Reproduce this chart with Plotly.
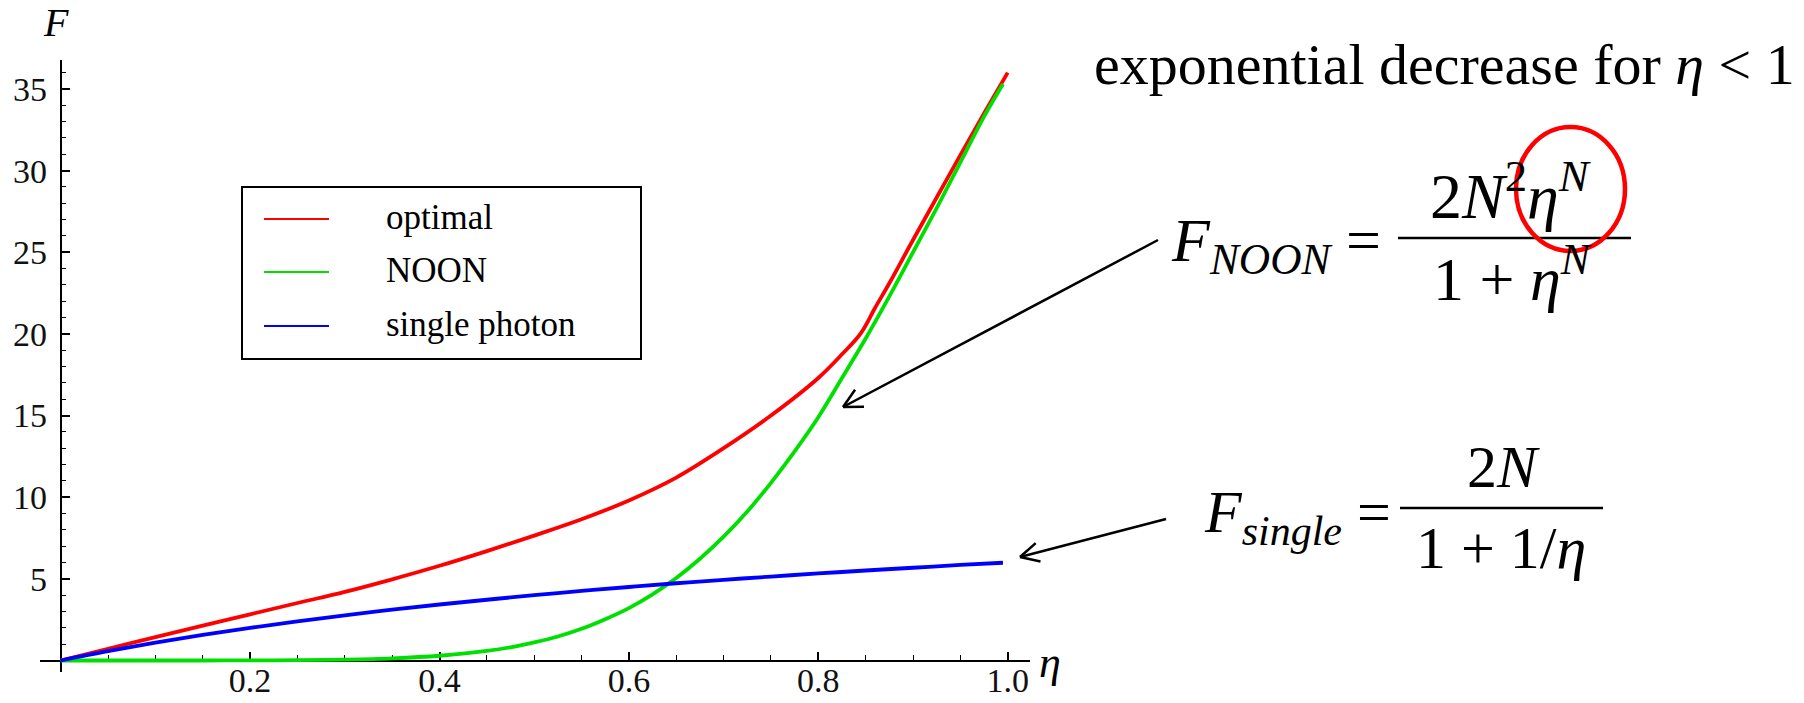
import math
import plotly.graph_objects as go

# ---------------- data ----------------
eta_optimal = [0.0, 0.05, 0.10, 0.15, 0.20, 0.25, 0.30, 0.35, 0.40, 0.45, 0.50,
               0.55, 0.60, 0.65, 0.70, 0.75, 0.80, 0.825, 0.845, 0.86, 0.875,
               0.90, 0.925, 0.95, 0.975, 1.0]
F_optimal = [0.0, 0.72, 1.43, 2.13, 2.83, 3.52, 4.2, 4.97, 5.8, 6.7, 7.65,
             8.65, 9.8, 11.2, 13.0, 15.0, 17.3, 18.75, 20.05, 21.6, 23.1,
             25.75, 28.35, 30.95, 33.5, 36.0]

eta_noon = [0.0, 0.05, 0.10, 0.15, 0.20, 0.25, 0.30, 0.35, 0.40, 0.45, 0.475,
            0.50, 0.525, 0.55, 0.575, 0.60, 0.625, 0.65, 0.675, 0.70, 0.725,
            0.75, 0.775, 0.80, 0.825, 0.85, 0.875, 0.90, 0.925, 0.95, 0.975,
            0.995]
F_noon = [0.0, 0.0, 0.0001, 0.001, 0.005, 0.018, 0.052, 0.13, 0.29, 0.59, 0.81,
          1.11, 1.47, 1.94, 2.53, 3.21, 4.05, 5.05, 6.23, 7.58, 9.12,
          10.88, 12.81, 14.9, 17.3, 19.72, 22.3, 25.0, 27.7, 30.5, 33.3,
          35.3]

eta_single = [0.0, 0.05, 0.10, 0.15, 0.20, 0.25, 0.30, 0.35, 0.40, 0.45, 0.50,
              0.55, 0.60, 0.65, 0.70, 0.75, 0.80, 0.85, 0.90, 0.95, 0.995]
F_single = [0.0, 0.571, 1.09, 1.565, 2.0, 2.4, 2.77, 3.11, 3.43, 3.72, 4.0,
            4.26, 4.5, 4.73, 4.94, 5.14, 5.33, 5.51, 5.68, 5.85, 5.985]

series_names = ["optimal", "NOON", "single photon"]
series_colors = ["#ff0000", "#00e000", "#0000ff"]

x_tick_vals = [0.2, 0.4, 0.6, 0.8, 1.0]
x_tick_text = ["0.2", "0.4", "0.6", "0.8", "1.0"]
y_tick_vals = [5, 10, 15, 20, 25, 30, 35]
y_tick_text = ["5", "10", "15", "20", "25", "30", "35"]
x_minor_vals = [0.05, 0.10, 0.15, 0.25, 0.30, 0.35, 0.45, 0.50, 0.55, 0.65,
                0.70, 0.75, 0.85, 0.90, 0.95]
y_minor_vals = [1, 2, 3, 4, 6, 7, 8, 9, 11, 12, 13, 14, 16, 17, 18, 19, 21, 22,
                23, 24, 26, 27, 28, 29, 31, 32, 33, 34, 36]

# ---------------- geometry ----------------
W, H = 1804, 703
L, T = 40, 60
PW, PH = 990, 612
R = W - L - PW
B = H - T - PH
X0PX, XPU = 60.7, 947.0      # pixel of eta=0, pixels per unit eta
Y0PX, YPU = 660.5, 16.33     # pixel of F=0, pixels per unit F

x_range = [(L - X0PX) / XPU, (L + PW - X0PX) / XPU]
y_range = [(Y0PX - (T + PH)) / YPU, (Y0PX - T) / YPU]


def PX(x):
    return (x - L) / PW


def PY(y):
    return (T + PH - y) / PH


SERIF = "Liberation Serif"

fig = go.Figure()
for xs, ys, name, col in [(eta_optimal, F_optimal, series_names[0], series_colors[0]),
                          (eta_noon, F_noon, series_names[1], series_colors[1]),
                          (eta_single, F_single, series_names[2], series_colors[2])]:
    fig.add_trace(go.Scatter(x=xs, y=ys, name=name, mode="lines",
                             line=dict(color=col, width=3.8, shape="spline", smoothing=1.0),
                             showlegend=False, hoverinfo="skip"))

axis_common = dict(showgrid=False, zeroline=False, showline=True, linecolor="black",
                   linewidth=2, ticks="inside", ticklen=8, tickwidth=1.7,
                   tickcolor="black", automargin=False, layer="below traces",
                   tickfont=dict(family=SERIF, size=34, color="#111"))

fig.update_layout(
    width=W, height=H,
    margin=dict(l=L, r=R, t=T, b=B, autoexpand=False),
    paper_bgcolor="white", plot_bgcolor="white",
    template="none",
    font=dict(family=SERIF, color="black"),
    xaxis=dict(range=x_range, anchor="free", position=(T + PH - Y0PX) / PH,
               tickmode="array", tickvals=x_tick_vals, ticktext=x_tick_text,
               ticklabelstandoff=-10,
               minor=dict(tickmode="array", tickvals=x_minor_vals, ticks="inside",
                          ticklen=4.5, tickwidth=1.4, tickcolor="black"),
               **axis_common),
    yaxis=dict(range=y_range, anchor="free", position=(X0PX - L) / PW,
               tickmode="array", tickvals=y_tick_vals, ticktext=y_tick_text,
               ticklabelstandoff=6,
               minor=dict(tickmode="array", tickvals=y_minor_vals, ticks="inside",
                          ticklen=4.5, tickwidth=1.4, tickcolor="black"),
               **axis_common),
)

shapes = []
annotations = []


def text(t, x, y, size, xanchor="center", yanchor="middle", color="black"):
    annotations.append(dict(text=t, x=PX(x), y=PY(y), xref="paper", yref="paper",
                            xanchor=xanchor, yanchor=yanchor, showarrow=False,
                            font=dict(family=SERIF, size=size, color=color)))


def line(x0, y0, x1, y1, color="black", width=2.5):
    shapes.append(dict(type="line", xref="paper", yref="paper",
                       x0=PX(x0), y0=PY(y0), x1=PX(x1), y1=PY(y1),
                       line=dict(color=color, width=width)))


def arrow(xs, ys, xt, yt, head=21, ang=27):
    line(xs, ys, xt, yt)
    a = math.atan2(ys - yt, xs - xt)
    for s in (-1, 1):
        b = a + s * math.radians(ang)
        line(xt, yt, xt + head * math.cos(b), yt + head * math.sin(b))


# axis titles
text("<i>F</i>", 56, 22, 40)
text("<i>η</i>", 1050, 662, 44)

# legend box (manual)
shapes.append(dict(type="rect", xref="paper", yref="paper",
                   x0=PX(242), y0=PY(187), x1=PX(641), y1=PY(359),
                   line=dict(color="black", width=2), fillcolor="white", layer="above"))
for i, (nm, col) in enumerate(zip(series_names, series_colors)):
    yy = [219, 272, 326][i]
    line(264, yy, 329, yy, color=col, width=2.2)
    text(nm, 384, yy - 2, 35, xanchor="left")

# right-side text
text("exponential decrease for <i>η</i> &lt; 1", 1444, 65, 58)

# F_NOON formula
text("<i>F</i><sub><i>NOON</i></sub> =", 1383, 244, 62, xanchor="right")
line(1398, 238, 1631, 238, width=2.6)
text("2<i>N</i><sup>2</sup><i>η</i><sup><i>N</i></sup>", 1510, 191, 64)
text("1 + <i>η</i><sup><i>N</i></sup>", 1512, 274, 62)
shapes.append(dict(type="circle", xref="paper", yref="paper",
                   x0=PX(1516), y0=PY(251), x1=PX(1625), y1=PY(127),
                   line=dict(color="#ff0000", width=4.5)))

# F_single formula
text("<i>F</i><sub><i>single</i></sub> =", 1393, 516, 60, xanchor="right")
line(1400, 508, 1603, 508, width=2.6)
text("2<i>N</i>", 1503, 467, 60)
text("1 + 1/<i>η</i>", 1501, 548, 60)

# arrows
arrow(1158, 240, 843, 407)
arrow(1166, 519, 1020, 557)

fig.update_layout(shapes=shapes, annotations=annotations)
fig.write_html("out.html")
